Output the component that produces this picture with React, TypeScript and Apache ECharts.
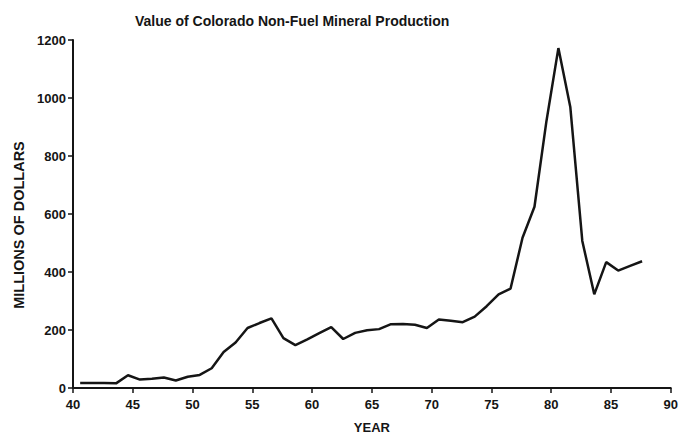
import React, { useEffect, useRef } from "react";
import * as echarts from "echarts";

// Calendar years (19xx) and value of production, millions of dollars
const years: number[] = [
  40, 41, 42, 43, 44, 45, 46, 47, 48, 49,
  50, 51, 52, 53, 54, 55, 56, 57, 58, 59,
  60, 61, 62, 63, 64, 65, 66, 67, 68, 69,
  70, 71, 72, 73, 74, 75, 76, 77, 78, 79,
  80, 81, 82, 83, 84, 85, 86, 87,
];
const values: number[] = [
  17, 17, 17, 16, 44, 29, 32, 36, 26, 39,
  45, 68, 124, 157, 207, 224, 240, 172, 148, 168,
  189, 210, 169, 190, 199, 203, 220, 221, 218, 207,
  236, 232, 227, 246, 282, 323, 343, 518, 625, 920,
  1172, 968, 507, 323, 434, 405, 421, 437,
];
const xTicks: number[] = [40, 45, 50, 55, 60, 65, 70, 75, 80, 85, 90];
const yTicks: number[] = [0, 200, 400, 600, 800, 1000, 1200];

const TITLE = "Value of Colorado Non-Fuel Mineral Production";
const X_NAME = "YEAR";
const Y_NAME = "MILLIONS OF DOLLARS";

// annual values plotted within the year
const YEAR_OFFSET = 0.6;

const FONT = "'Liberation Sans', Arial, sans-serif";
const INK = "#151515";

export default function App() {
  const ref = useRef<HTMLDivElement>(null);

  useEffect(() => {
    if (!ref.current) return;
    const chart = echarts.init(ref.current, undefined, { renderer: "svg" });
    const data = years.map((y, i) => [y + YEAR_OFFSET, values[i]]);
    chart.setOption({
      animation: false,
      backgroundColor: "#ffffff",
      title: {
        text: TITLE,
        left: 130,
        top: 9,
        textStyle: {
          fontFamily: FONT,
          fontSize: 14,
          fontWeight: "bold",
          color: INK,
        },
      },
      grid: { left: 73, right: 8, top: 40, bottom: 44, containLabel: false },
      xAxis: {
        type: "value",
        min: xTicks[0],
        max: xTicks[xTicks.length - 1],
        interval: 5,
        name: X_NAME,
        nameLocation: "middle",
        nameGap: 33,
        nameTextStyle: { fontFamily: FONT, fontSize: 13, fontWeight: "bold", color: INK },
        axisLine: { show: true, onZero: false, lineStyle: { color: INK, width: 2 } },
        axisTick: { show: true, inside: false, length: 5, lineStyle: { color: INK, width: 1.5 } },
        axisLabel: { fontFamily: FONT, fontSize: 13, fontWeight: "bold", color: INK, margin: 10 },
        splitLine: { show: false },
      },
      yAxis: {
        type: "value",
        min: yTicks[0],
        max: yTicks[yTicks.length - 1],
        interval: 200,
        name: Y_NAME,
        nameLocation: "middle",
        nameGap: 47,
        nameTextStyle: {
          fontFamily: FONT,
          fontSize: 14.5,
          fontWeight: "bold",
          color: INK,
          padding: [0, 22, 0, 0],
        },
        axisLine: { show: true, lineStyle: { color: INK, width: 2 } },
        axisTick: { show: true, inside: false, length: 5, lineStyle: { color: INK, width: 1.5 } },
        axisLabel: {
          fontFamily: FONT,
          fontSize: 13,
          fontWeight: "bold",
          color: INK,
          margin: 7,
          formatter: (v: number) => String(v),
        },
        splitLine: { show: false },
      },
      series: [
        {
          type: "line",
          data,
          showSymbol: false,
          symbol: "none",
          lineStyle: { color: INK, width: 2.5 },
        },
      ],
    });
    return () => chart.dispose();
  }, []);

  return <div ref={ref} style={{ width: 681, height: 439, position: "absolute", left: 0, top: 0 }} />;
}
